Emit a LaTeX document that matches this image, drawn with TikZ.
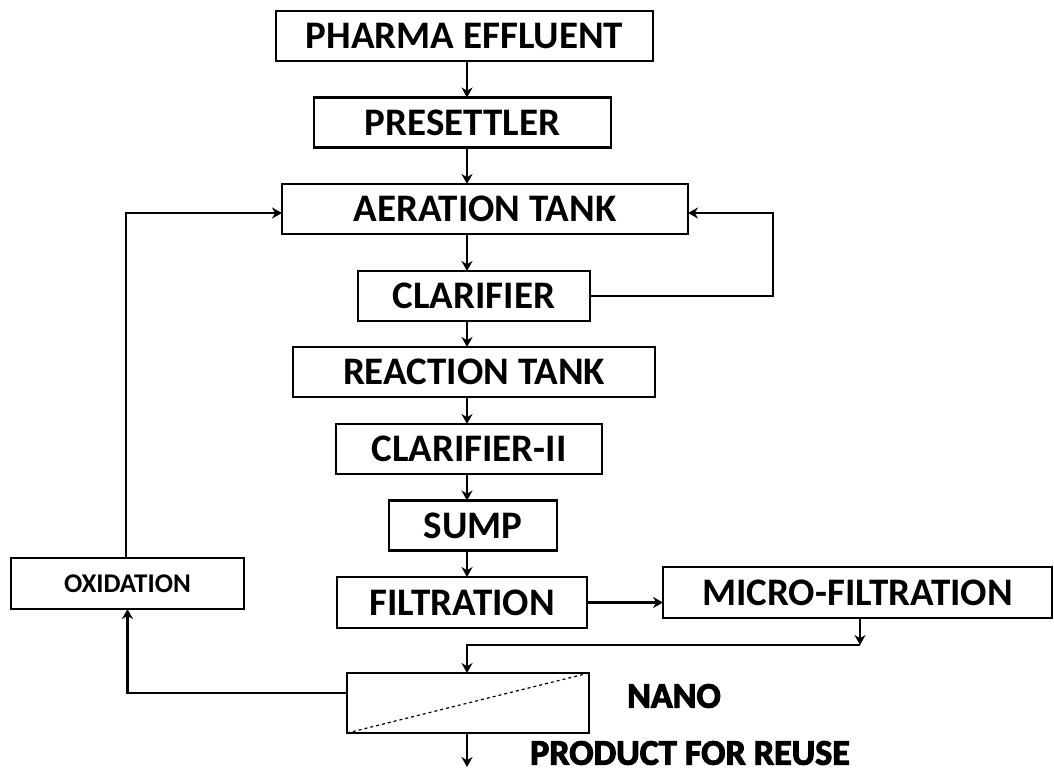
\documentclass[tikz,border=0pt]{standalone}
\usepackage{fontspec}
\setmainfont{Carlito}
\newfontfamily\heavyfont{Carlito Bold}[FakeBold=3]
\usepackage{tikz}
\usetikzlibrary{arrows.meta,positioning}

\begin{document}
\begin{tikzpicture}[
x=1pt, y=-1pt,
    B/.style = {rectangle, draw, line width=2.5pt,% process boxes
                minimum height=50pt, outer sep=0pt,
                font=\fontsize{39}{45}\selectfont\bfseries},
    S/.style = {B, font=\fontsize{27}{32}\selectfont\bfseries},
    L/.style = {inner sep=0pt, font=\fontsize{36}{42}\selectfont\heavyfont},
  arr/.style = {line width=2.5pt, -{Stealth[length=10pt,width=11pt]}},
                        ]
\useasboundingbox (0,0) rectangle (1054,776);
\coordinate (axis) at (467,0);
% main line
\node[B, minimum width=377pt] (pharma) at (464.5,36)  {PHARMA EFFLUENT};
\node[B, minimum width=297pt] (preset) at (462.5,122.5) {PRESETTLER};
\node[B, minimum width=406pt] (aer)    at (485,209)   {AERATION TANK};
\node[B, minimum width=232pt] (clar)   at (474,296)   {CLARIFIER};
\node[B, minimum width=362pt] (react)  at (474,372)   {REACTION TANK};
\node[B, minimum width=266pt] (clartwo) at (469,449)  {CLARIFIER-II};
\node[B, minimum width=168pt] (sump)   at (473,525.5) {SUMP};
\node[B, minimum width=250pt, minimum height=51pt] (filt) at (462,602.5) {FILTRATION};
\node[B, minimum width=389pt, minimum height=51pt] (micro) at (857.5,592.5) {MICRO-FILTRATION};
\node[S, minimum width=233pt, minimum height=51pt] (oxid) at (127.5,583.5) {OXIDATION};
\node[B, minimum width=242pt, minimum height=60pt] (nano) at (468,703) {};
\draw[dashed, line width=1.2pt] (nano.south west) -- (nano.north east);
\node[L] (nanolbl) at (674,696) {NANO};
\node[L] (reuse)   at (690,753) {PRODUCT FOR REUSE};
\foreach \a/\b in {pharma/preset,preset/aer,aer/clar,clar/react,react/clartwo,clartwo/sump,sump/filt}
    \draw[arr] (\a.south -| axis) -- (\b.north -| axis);
% recycle loops
\coordinate (rloop) at (773,213);
\draw[arr] (clar.east) -| (rloop) -- (rloop -| aer.east);
\coordinate (lloop) at (126,213);
\draw[arr] (oxid.north -| lloop) -- (lloop) -- (lloop -| aer.west);
\draw[arr] (filt.east) -- (filt.east -| micro.west);
\coordinate (mfdrop) at (860,645);
\draw[arr] (micro.south -| mfdrop) -- (mfdrop);
\draw[arr] (mfdrop) -| (nano.north -| axis);
\draw[arr] ([yshift=10pt]nano.west) -| (oxid.south);
\coordinate (out) at (467,767);
\draw[arr] (nano.south -| axis) -- (out);
\end{tikzpicture}
\end{document}
